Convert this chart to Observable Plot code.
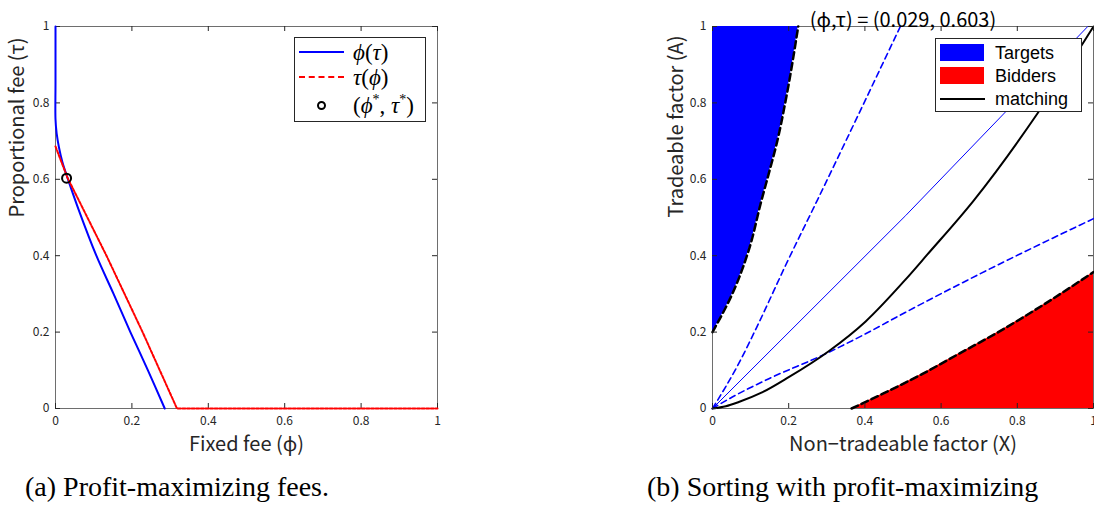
<!DOCTYPE html>
<html>
<head>
<meta charset="utf-8">
<script src="https://cdn.jsdelivr.net/npm/d3@7"></script>
<script src="https://cdn.jsdelivr.net/npm/@observablehq/plot@0.6"></script>
<style>
  html, body { margin: 0; padding: 0; background: #fff; }
  #root { position: relative; width: 1094px; height: 519px; overflow: hidden; background: #fff; }
  .panel { position: absolute; top: 0; }
  .legend { position: absolute; box-sizing: border-box; border: 1px solid #262626; background: #fff; }
  .legend .row { position: absolute; left: 0; right: 0; height: 0; }
  .legend .txt { position: absolute; transform: translateY(-50%); white-space: nowrap; color: #000; line-height: 1; }
  .caption { position: absolute; font-family: "Liberation Serif", serif; font-size: 28px; color: #000; white-space: nowrap; }
</style>
</head>
<body>
<div id="root"></div>
<script>
// ---------- data: panel (a) ----------
const ticks = [0, 0.2, 0.4, 0.6, 0.8, 1];

const phiOfTauPhi = [0, 0, 0, 0.003, 0.009, 0.018, 0.031, 0.060, 0.107, 0.152, 0.196, 0.242, 0.286];
const phiOfTauTau = [1, 0.85, 0.757, 0.720, 0.684, 0.645, 0.605, 0.522, 0.400, 0.300, 0.200, 0.100, 0];

const tauOfPhiPhi = [0, 0.031, 0.1335, 0.228, 0.318, 0.5, 1];
const tauOfPhiTau = [0.686, 0.605, 0.400, 0.200, 0, 0, 0];

const phiStar = [0.029];
const tauStar = [0.603];

// ---------- data: panel (b) ----------
const targetsX = [0, 0.052, 0.095, 0.1286, 0.145, 0.170, 0.192, 0.225];
const targetsA = [0.2, 0.300, 0.414, 0.545, 0.605, 0.700, 0.806, 1];

const biddersX = [0.365, 0.45, 0.55, 0.65, 0.75, 0.85, 1];
const biddersA = [0, 0.040, 0.090, 0.145, 0.200, 0.260, 0.357];

const matchingX = [0, 0.035, 0.069, 0.13, 0.2, 0.305, 0.402, 0.507, 0.563, 0.686, 0.852, 1];
const matchingA = [0, 0.006, 0.017, 0.042, 0.082, 0.150, 0.228, 0.338, 0.402, 0.545, 0.771, 1];

const diagX = [0, 0.507, 0.985];
const diagA = [0, 0.505, 1];

const steepX = [0, 0.069, 0.122, 0.192, 0.275, 0.493];
const steepA = [0, 0.118, 0.225, 0.375, 0.545, 1];

const shallowX = [0, 0.052, 0.148, 0.292, 0.393, 0.507, 0.703, 1];
const shallowA = [0, 0.030, 0.078, 0.141, 0.191, 0.252, 0.353, 0.497];

const titleB = "(ϕ,τ) = (0.029, 0.603)";

// ---------- helpers ----------
const zip = (xs, ys) => xs.map((x, i) => ({x, y: ys[i]}));
const FONT = "'Noto Sans CJK JP', 'Noto Sans', sans-serif";
const PH = 382;

function frameMarks(PW) {
  const T = 5;
  return [
    Plot.frame({stroke: "#6e6e6e"}),
    Plot.tickX(ticks, {x: d => d, insetTop: PH - T, stroke: "#262626"}),
    Plot.tickX(ticks, {x: d => d, insetBottom: PH - T, stroke: "#262626"}),
    Plot.tickY(ticks, {y: d => d, insetRight: PW - T, stroke: "#262626"}),
    Plot.tickY(ticks, {y: d => d, insetLeft: PW - T, stroke: "#262626"}),
    Plot.axisX(ticks, {tickSize: 0, tickPadding: 8, fontSize: 12, label: null, tickFormat: d => String(d)}),
    Plot.axisY(ticks, {tickSize: 0, tickPadding: 6, fontSize: 12, label: null, tickFormat: d => String(d)})
  ];
}

const root = document.getElementById("root");

// ---------- panel (a) ----------
const plotA = Plot.plot({
  width: 460, height: 460,
  marginLeft: 55, marginRight: 23, marginTop: 26, marginBottom: 52,
  x: {domain: [0, 1]}, y: {domain: [0, 1]},
  style: {fontFamily: FONT, color: "#262626", background: "transparent", overflow: "visible"},
  marks: [
    ...frameMarks(382),
    Plot.line(zip(phiOfTauPhi, phiOfTauTau), {x: "x", y: "y", stroke: "#0000ff", strokeWidth: 2, curve: "catmull-rom"}),
    Plot.line(zip(tauOfPhiPhi, tauOfPhiTau), {x: "x", y: "y", stroke: "#ff0000", strokeWidth: 2, strokeDasharray: "3,1.6"}),
    Plot.dot(zip(phiStar, tauStar), {x: "x", y: "y", r: 4.5, stroke: "#000", strokeWidth: 2, fill: "none"}),
    Plot.text(["Fixed fee (ϕ)"], {frameAnchor: "bottom", dy: 42, fontSize: 20, fill: "#262626"}),
    Plot.text(["Proportional fee (τ)"], {frameAnchor: "left", dx: -38, rotate: -90, fontSize: 20, fill: "#262626"})
  ]
});
plotA.classList.add("panel");
plotA.style.left = "0px";
root.appendChild(plotA);

// ---------- panel (b) ----------
const plotB = Plot.plot({
  width: 454, height: 460,
  marginLeft: 72, marginRight: 1, marginTop: 26, marginBottom: 52,
  x: {domain: [0, 1]}, y: {domain: [0, 1]},
  style: {fontFamily: FONT, color: "#262626", background: "transparent", overflow: "visible"},
  marks: [
    Plot.frame({stroke: "#6e6e6e"}),
    Plot.areaX(zip(targetsX, targetsA), {y: "y", x1: 0, x2: "x", fill: "#0000ff", curve: "monotone-y"}),
    Plot.areaY(zip(biddersX, biddersA), {x: "x", y1: 0, y2: "y", fill: "#ff0000", curve: "monotone-x"}),
    Plot.line(zip(steepX, steepA), {x: "x", y: "y", stroke: "#0000ff", strokeWidth: 1.6, strokeDasharray: "6,4", curve: "monotone-x"}),
    Plot.line(zip(shallowX, shallowA), {x: "x", y: "y", stroke: "#0000ff", strokeWidth: 1.6, strokeDasharray: "6,4", curve: "monotone-x"}),
    Plot.line(zip(diagX, diagA), {x: "x", y: "y", stroke: "#0000ff", strokeWidth: 1}),
    Plot.line(zip(matchingX, matchingA), {x: "x", y: "y", stroke: "#000", strokeWidth: 2, curve: "monotone-x"}),
    Plot.line(zip(targetsX, targetsA), {x: "x", y: "y", stroke: "#000", strokeWidth: 2.5, strokeDasharray: "7,4", curve: "monotone-y"}),
    Plot.line(zip(biddersX, biddersA), {x: "x", y: "y", stroke: "#000", strokeWidth: 2.5, strokeDasharray: "7,4", curve: "monotone-x"}),
    ...frameMarks(381).slice(1),
    Plot.text([titleB], {frameAnchor: "top", dy: -14, fontSize: 20, fill: "#000"}),
    Plot.text(["Non−tradeable factor (X)"], {frameAnchor: "bottom", dy: 42, fontSize: 20, fill: "#262626"}),
    Plot.text(["Tradeable factor (A)"], {frameAnchor: "left", dx: -36, rotate: -90, fontSize: 20, fill: "#262626"})
  ]
});
plotB.classList.add("panel");
plotB.style.left = "640px";
root.appendChild(plotB);

// ---------- legends ----------
function legend(left, top, w, h, rows, font, size) {
  const box = document.createElement("div");
  box.className = "legend";
  Object.assign(box.style, {left: left + "px", top: top + "px", width: w + "px", height: h + "px"});
  for (const r of rows) {
    const row = document.createElement("div");
    row.className = "row";
    row.style.top = r.y + "px";
    const s = document.createElement("div");
    s.style.position = "absolute";
    if (r.type === "line") {
      Object.assign(s.style, {left: "4px", width: "45px", top: -(r.w / 2) + "px", height: "0px",
        borderTop: r.w + "px " + (r.dash ? "dashed " : "solid ") + r.color});
    } else if (r.type === "rect") {
      Object.assign(s.style, {left: "4px", width: "44px", top: "-8.5px", height: "17px", background: r.color});
    } else {
      Object.assign(s.style, {left: "22px", width: "5px", height: "5px", top: "-4.5px",
        border: "2px solid #000", borderRadius: "50%"});
    }
    row.appendChild(s);
    const t = document.createElement("div");
    t.className = "txt";
    t.style.left = r.tx + "px";
    t.style.fontFamily = font;
    t.style.fontSize = size + "px";
    t.innerHTML = r.html;
    row.appendChild(t);
    box.appendChild(row);
  }
  root.appendChild(box);
}

legend(294, 37, 132, 85, [
  {type: "line", y: 14, w: 2, color: "#0000ff", tx: 58, html: "<i>ϕ</i>(<i>τ</i>)"},
  {type: "line", y: 39, w: 2, color: "#ff0000", dash: true, tx: 58, html: "<i>τ</i>(<i>ϕ</i>)"},
  {type: "circle", y: 67, tx: 58, html: "(<i>ϕ</i><sup style='font-size:14px;line-height:0'>*</sup>, <i>τ</i><sup style='font-size:14px;line-height:0'>*</sup>)"}
], "'Liberation Serif', serif", 23);

legend(935, 38, 147, 74, [
  {type: "rect", y: 13.5, color: "#0000ff", tx: 59, html: "Targets"},
  {type: "rect", y: 36.5, color: "#ff0000", tx: 59, html: "Bidders"},
  {type: "line", y: 60, w: 2, color: "#000", tx: 59, html: "matching"}
], "'Liberation Sans', Arial, sans-serif", 18);

// ---------- captions ----------
function caption(text, left, top) {
  const d = document.createElement("div");
  d.className = "caption";
  d.textContent = text;
  d.style.left = left + "px";
  d.style.top = top + "px";
  root.appendChild(d);
}
caption("(a) Profit-maximizing fees.", 25, 471);
caption("(b) Sorting with profit-maximizing", 647, 471);
</script>
</body>
</html>
